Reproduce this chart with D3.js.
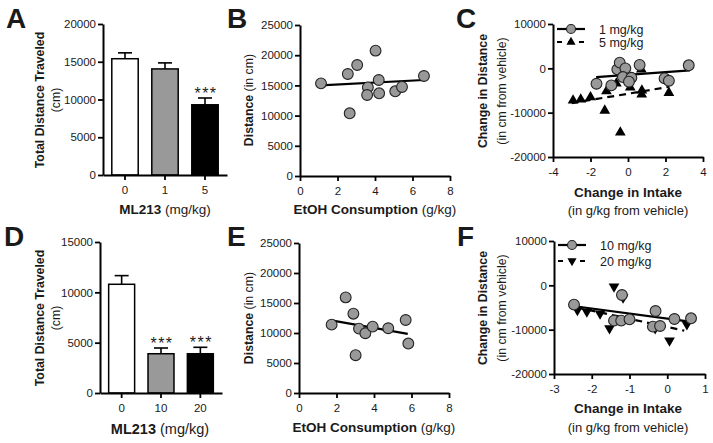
<!DOCTYPE html>
<html><head><meta charset="utf-8">
<script src="https://cdn.jsdelivr.net/npm/d3@7/dist/d3.min.js"></script>
<style>
body{margin:0;background:#fff}
text{font-family:Arial,"Liberation Sans",Helvetica,sans-serif;fill:#1a1a1a}
</style>
</head><body>
<svg id="chart" width="713" height="443"></svg>
<script>
// ---------- DATA ----------
const catsA = ["0", "1", "5"];
const meansA = [15400, 14050, 9300];
const semA = [780, 800, 900];
const sigA = ["", "", "***"];
const ticksA = [0, 5000, 10000, 15000, 20000];

const catsD = ["0", "10", "20"];
const meansD = [10800, 3900, 3900];
const semD = [860, 570, 640];
const sigD = ["", "***", "***"];
const ticksD = [0, 5000, 10000, 15000];

const barColors = ["#ffffff", "#999999", "#000000"];

const bX = [1.12, 2.55, 3.05, 2.65, 4.03, 3.62, 3.58, 4.20, 4.22, 5.08, 5.44, 6.61];
const bY = [15340, 16890, 18380, 10380, 20750, 14680, 13410, 15890, 13690, 14020, 14740, 16560];
const bFit = [[1.1, 15010], [6.6, 15890]];

const eX = [1.74, 2.49, 2.90, 3.20, 3.02, 3.54, 3.93, 4.76, 5.69, 5.83];
const eY = [11390, 15930, 13220, 10730, 6300, 9960, 11060, 10790, 12170, 8240];
const eFit = [[1.8, 12060], [5.8, 9850]];

const scatterXTicks = [0, 2, 4, 6, 8];
const scatterYTicks = [0, 5000, 10000, 15000, 20000, 25000];

const c1X = [-1.68, -0.89, -0.57, -0.44, -0.14, -0.27, 0.18, 0.05, 0.62, 1.95, 2.18, 3.24];
const c1Y = [-3480, -3850, -230, 1280, 0, -1970, -2120, -3020, 760, -2270, -2800, 680];
const c1Fit = [[-1.7, -1970], [3.3, -450]];
const c5X = [-2.93, -2.52, -2.00, -1.15, -0.62, 0.12, 0.71, 0.74, 0.73, 2.18, -1.24, -0.41];
const c5Y = [-7260, -7030, -6500, -5140, -3400, -4310, -230, -4990, -5900, -5520, -9520, -14440];
const c5Fit = [[-3.0, -7860], [2.2, -4160]];
const cXTicks = [-4, -2, 0, 2, 4];

const f10X = [-2.47, -1.41, -1.20, -1.22, -1.00, -0.31, -0.38, -0.19, 0.19, 0.63];
const f10Y = [-4360, -7970, -2180, -7970, -7670, -5790, -9320, -9170, -7590, -7440];
const f10Fit = [[-2.5, -4660], [0.6, -8200]];
const f20X = [-2.38, -2.13, -1.78, -1.53, -1.41, -1.17, -0.32, 0.06, 0.52];
const f20Y = [-5560, -5940, -6390, -9700, -300, -2780, -9700, -12480, -8800];
const f20Fit = [[-2.4, -4960], [0.45, -10230]];
const fXTicks = [-3, -2, -1, 0, 1];
const changeYTicks = [-20000, -10000, 0, 10000];

const legendC = ["1 mg/kg", "5 mg/kg"];
const legendF = ["10 mg/kg", "20 mg/kg"];

// ---------- DRAWING ----------
const svg = d3.select("#chart");
const fmt = d => String(d);
const TICK_FS = 11.5, XT_FS = 13.5, YT_FS = 12.3;

function styleAxis(g) {
  g.select(".domain").attr("stroke", "#000").attr("stroke-width", 2);
  g.selectAll(".tick line").attr("stroke", "#000").attr("stroke-width", 1.8);
  g.selectAll(".tick text").attr("font-size", TICK_FS).attr("fill", "#1a1a1a")
    .style("font-family", "Arial, 'Liberation Sans', sans-serif");
}
function yAxis(x, scale, ticks) {
  const g = svg.append("g").attr("transform", `translate(${x},0)`)
    .call(d3.axisLeft(scale).tickValues(ticks).tickFormat(fmt).tickSize(5).tickSizeOuter(0).tickPadding(2));
  styleAxis(g);
}
function xAxis(y, scale, ticks) {
  const ax = d3.axisBottom(scale).tickSize(5).tickSizeOuter(0).tickPadding(6);
  if (ticks) ax.tickValues(ticks).tickFormat(fmt);
  const g = svg.append("g").attr("transform", `translate(0,${y})`).call(ax);
  styleAxis(g);
}
function letter(t, x, y) {
  svg.append("text").attr("x", x).attr("y", y).attr("font-size", 28).attr("font-weight", "bold")
    .attr("fill", "#000").text(t);
}
function yTitle(x, cy, boldPart, regPart, fs) {
  const t = svg.append("text").attr("transform", `translate(${x},${cy}) rotate(-90)`)
    .attr("text-anchor", "middle").attr("font-size", fs || YT_FS);
  t.append("tspan").attr("font-weight", "bold").text(boldPart);
  if (regPart) t.append("tspan").text(regPart);
}
function yTitleLine(x, cy, txt, bold) {
  svg.append("text").attr("transform", `translate(${x},${cy}) rotate(-90)`)
    .attr("text-anchor", "middle").attr("font-size", YT_FS).attr("font-weight", bold ? "bold" : "normal").text(txt);
}
function xTitle(cx, y, boldPart, regPart, fs) {
  const t = svg.append("text").attr("x", cx).attr("y", y).attr("text-anchor", "middle").attr("font-size", fs || XT_FS);
  t.append("tspan").attr("font-weight", "bold").text(boldPart);
  if (regPart) t.append("tspan").text(regPart);
}

function barPanel(cats, means, sem, sig, ticks, L, R, y0, yTop, yMax) {
  const x = d3.scaleBand().domain(cats).range([L, R]).paddingInner(0.34).paddingOuter(0.22);
  const y = d3.scaleLinear().domain([0, yMax]).range([y0, yTop]);
  const g = svg.append("g");
  cats.forEach((c, i) => {
    const cx = x(c) + x.bandwidth() / 2;
    g.append("line").attr("x1", cx).attr("x2", cx).attr("y1", y(means[i])).attr("y2", y(means[i] + sem[i]))
      .attr("stroke", "#000").attr("stroke-width", 1.6);
    g.append("line").attr("x1", cx - 7).attr("x2", cx + 7).attr("y1", y(means[i] + sem[i])).attr("y2", y(means[i] + sem[i]))
      .attr("stroke", "#000").attr("stroke-width", 1.6);
    g.append("rect").attr("x", x(c)).attr("width", x.bandwidth())
      .attr("y", y(means[i])).attr("height", y(0) - y(means[i]))
      .attr("fill", barColors[i]).attr("stroke", "#000").attr("stroke-width", 1.5);
    if (sig[i]) g.append("text").attr("x", cx + 1).attr("y", y(means[i] + sem[i]) + 1)
      .attr("text-anchor", "middle").attr("font-size", 16).attr("letter-spacing", 1.5).text(sig[i]);
  });
  yAxis(L, y, ticks);
  xAxis(y0, x);
}

function scatterPanel(L, R, y0, yTop, xDom, yDom, xTicks, yTicks) {
  const x = d3.scaleLinear().domain(xDom).range([L, R]);
  const y = d3.scaleLinear().domain(yDom).range([y0, yTop]);
  yAxis(L, y, yTicks);
  xAxis(y0, x, xTicks);
  return { x, y };
}
function fitLine(s, pts, dashed) {
  svg.append("path").attr("d", d3.line().x(d => s.x(d[0])).y(d => s.y(d[1]))(pts))
    .attr("stroke", "#000").attr("stroke-width", 2.2).attr("fill", "none")
    .attr("stroke-dasharray", dashed ? "7,5" : null);
}
function circles(s, xs, ys) {
  svg.append("g").selectAll("circle").data(xs).join("circle")
    .attr("cx", d => s.x(d)).attr("cy", (d, i) => s.y(ys[i])).attr("r", 5.4)
    .attr("fill", "#999999").attr("stroke", "#222").attr("stroke-width", 1.1);
}
const triSym = d3.symbol().type(d3.symbolTriangle).size(50);
function triangles(s, xs, ys, down) {
  svg.append("g").selectAll("path").data(xs).join("path")
    .attr("d", triSym)
    .attr("transform", (d, i) => `translate(${s.x(d)},${s.y(ys[i])})${down ? " rotate(180)" : ""}`)
    .attr("fill", "#000");
}
function legend(x0, y1, y2, labels, down) {
  svg.append("line").attr("x1", x0).attr("x2", x0 + 28).attr("y1", y1).attr("y2", y1)
    .attr("stroke", "#000").attr("stroke-width", 2.2);
  svg.append("circle").attr("cx", x0 + 14).attr("cy", y1).attr("r", 4.5)
    .attr("fill", "#999999").attr("stroke", "#222").attr("stroke-width", 1.1);
  svg.append("line").attr("x1", x0).attr("x2", x0 + 28).attr("y1", y2).attr("y2", y2)
    .attr("stroke", "#000").attr("stroke-width", 2.2).attr("stroke-dasharray", "5,6");
  svg.append("path").attr("d", d3.symbol().type(d3.symbolTriangle).size(36))
    .attr("transform", `translate(${x0 + 14},${y2})${down ? " rotate(180)" : ""}`).attr("fill", "#000");
  svg.append("text").attr("x", x0 + 42).attr("y", y1 + 4.5).attr("font-size", 12.5).text(labels[0]);
  svg.append("text").attr("x", x0 + 42).attr("y", y2 + 4.5).attr("font-size", 12.5).text(labels[1]);
}

// Panel A
letter("A", 6, 28);
barPanel(catsA, meansA, semA, sigA, ticksA, 103, 227, 175, 24, 20000);
yTitle(44, 100, "Total Distance Traveled", null);
yTitle(60, 100, "", "(cm)");
xTitle(165, 214, "ML213", " (mg/kg)");

// Panel B
letter("B", 227, 28);
const sB = scatterPanel(300, 450, 176, 25, [0, 8], [0, 25000], scatterXTicks, scatterYTicks);
fitLine(sB, bFit, false);
circles(sB, bX, bY);
yTitle(253, 100, "Distance", " (in cm)");
xTitle(375, 214, "EtOH Consumption", " (g/kg)");

// Panel C
letter("C", 456, 28);
const sC = scatterPanel(553, 703, 157, 24, [-4, 4], [-20000, 10000], cXTicks, changeYTicks);
fitLine(sC, c5Fit, true);
triangles(sC, c5X, c5Y, false);
fitLine(sC, c1Fit, false);
circles(sC, c1X, c1Y);
legend(557, 29, 42, legendC, false);
yTitleLine(487, 91, "Change in Distance", true);
yTitleLine(506, 91, "(in cm from vehicle)", false);
xTitle(628, 197, "Change in Intake", null);
xTitle(628, 215, "", "(in g/kg from vehicle)", 13);

// Panel D
letter("D", 4, 246);
barPanel(catsD, meansD, semD, sigD, ticksD, 100, 222, 393, 242, 15000);
yTitle(44, 318, "Total Distance Traveled", null);
yTitle(60, 318, "", "(cm)");
xTitle(160, 434, "ML213", " (mg/kg)", 14.5);

// Panel E
letter("E", 227, 246);
const sE = scatterPanel(299, 449, 393, 243, [0, 8], [0, 25000], scatterXTicks, scatterYTicks);
fitLine(sE, eFit, false);
circles(sE, eX, eY);
yTitle(253, 318, "Distance", " (in cm)");
xTitle(374, 432, "EtOH Consumption", " (g/kg)");

// Panel F
letter("F", 457, 246);
const sF = scatterPanel(554, 705, 374, 241, [-3, 1], [-20000, 10000], fXTicks, changeYTicks);
fitLine(sF, f20Fit, true);
triangles(sF, f20X, f20Y, true);
fitLine(sF, f10Fit, false);
circles(sF, f10X, f10Y);
legend(558, 245, 261, legendF, true);
yTitleLine(487, 308, "Change in Distance", true);
yTitleLine(506, 308, "(in cm from vehicle)", false);
xTitle(628, 413, "Change in Intake", null);
xTitle(628, 432, "", "(in g/kg from vehicle)", 13);
</script>
</body></html>
